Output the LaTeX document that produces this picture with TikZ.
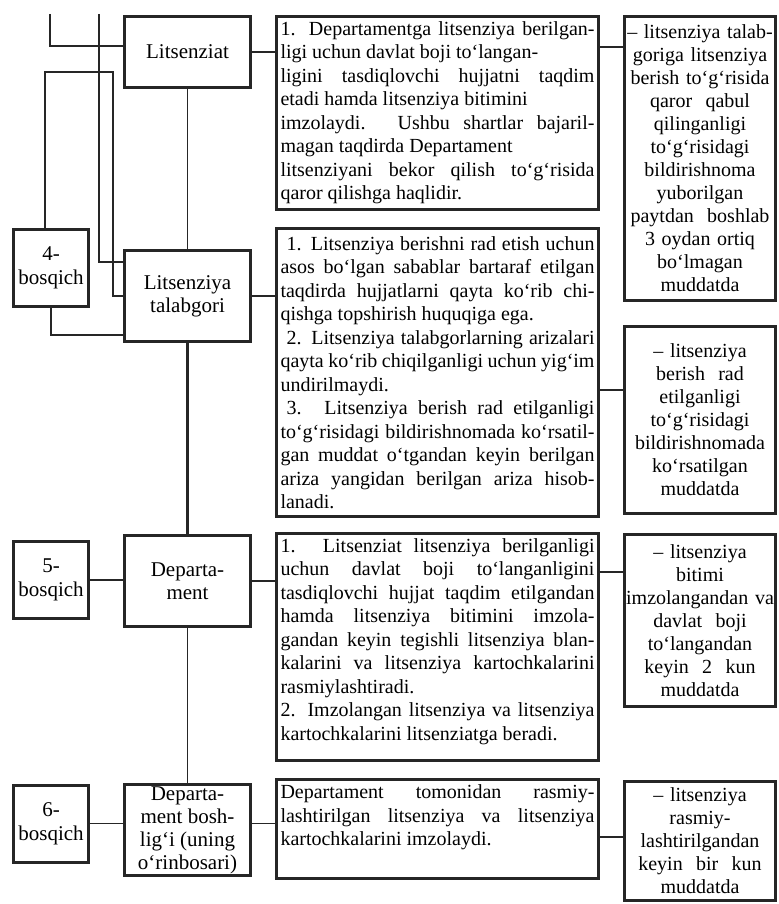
\documentclass[tikz,border=0pt]{standalone}
\usepackage{fontspec}
\setmainfont{Liberation Serif}
\usetikzlibrary{positioning}

\newcommand{\boxpad}[1]{\par\vspace*{#1}\null}

\begin{document}
\begin{tikzpicture}[
    x=1pt,y=1pt,
    node distance=10pt,
    actor/.style={
        draw=black!85,
        line width=1.5pt,
        minimum width=63pt,
        inner sep=1pt,
        align=center,
        font=\fontsize{10.5}{11.5}\selectfont
    },
    stage/.style={
        draw=black!85,
        line width=1.5pt,
        minimum width=37.5pt,
        minimum height=38.5pt,
        inner sep=1pt,
        align=center,
        font=\fontsize{10.5}{12}\selectfont
    },
    textbox/.style={
        draw=black!85,
        line width=1.5pt,
        text width=157pt,
        inner xsep=2pt,
        inner ysep=2.5pt,
        align=justify,
        font=\fontsize{10}{11.75}\selectfont
    },
    termbox/.style={
        draw=black!85,
        line width=1.5pt,
        text width=74pt,
        inner xsep=0.75pt,
        inner ysep=1pt,
        align=center,
        font=\fontsize{10}{11.5}\selectfont
    },
    link/.style={draw=black!85,line width=1.3pt},
    wire/.style={draw=black!85,line width=0.7pt}
]

\useasboundingbox (0,0) rectangle (389.5,-452);

%------------------------------------------------
% Actors
%------------------------------------------------

\node[actor,minimum height=35.5pt] (lits) at (93.75,-26) {Litsenziat};

\node[actor,minimum height=45.5pt,below=80pt of lits] (talab)
{Litsenziya\\talabgori};

\node[actor,minimum height=45.5pt,below=95.5pt of talab] (dept)
{Departa-\\ment};

\node[actor,minimum height=45pt,below=77.5pt of dept] (boss)
{Departa-\\ment bosh-\\lig‘i (uning\\o‘rinbosari)};

%------------------------------------------------
% Stages
%------------------------------------------------

\node[stage,left=16.5pt of talab,yshift=14pt] (st4) {4-\\bosqich};
\node[stage,left=16.5pt of dept,yshift=0.5pt] (st5) {5-\\bosqich};
\node[stage,left=16.5pt of boss,yshift=3.25pt] (st6) {6-\\bosqich};

\coordinate (topA) at (25,-7);
\coordinate (topB) at (49.5,-7);

%------------------------------------------------
% Actions
%------------------------------------------------

\node[textbox,minimum height=95.5pt,right=11.5pt of lits.north east,anchor=north west] (box1)
{1. Departamentga litsenziya berilgan-\linebreak
ligi uchun davlat boji to‘langan-\newline
ligini tasdiqlovchi hujjatni taqdim\linebreak
etadi hamda litsenziya bitimini\newline
imzolaydi. Ushbu shartlar bajaril-\linebreak
magan taqdirda Departament\newline
litsenziyani bekor qilish to‘g‘risida\linebreak
qaror qilishga haqlidir.};

\node[textbox,minimum height=144pt,right=11.5pt of talab.north east,anchor=north west,yshift=11pt] (box2)
{\hspace*{3pt}1. Litsenziya berishni rad etish uchun\linebreak
asos bo‘lgan sabablar bartaraf etilgan\linebreak
taqdirda hujjatlarni qayta ko‘rib chi-\linebreak
qishga topshirish huquqiga ega.\newline
\hspace*{3pt}2. Litsenziya talabgorlarning arizalari\linebreak
qayta ko‘rib chiqilganligi uchun yig‘im\linebreak
undirilmaydi.\newline
\hspace*{3pt}3. Litsenziya berish rad etilganligi\linebreak
to‘g‘risidagi bildirishnomada ko‘rsatil-\linebreak
gan muddat o‘tgandan keyin berilgan\linebreak
ariza yangidan berilgan ariza hisob-\linebreak
lanadi.};

\node[textbox,minimum height=113.5pt,right=11.5pt of dept.north east,anchor=north west,yshift=1pt] (box3)
{1. Litsenziat litsenziya berilganligi\linebreak
uchun davlat boji to‘langanligini\linebreak
tasdiqlovchi hujjat taqdim etilgandan\linebreak
hamda litsenziya bitimini imzola-\linebreak
gandan keyin tegishli litsenziya blan-\linebreak
kalarini va litsenziya kartochkalarini\linebreak
rasmiylashtiradi.\newline
2. Imzolangan litsenziya va litsenziya\linebreak
kartochkalarini litsenziatga beradi.\boxpad{-4pt}};

\node[textbox,minimum height=49.5pt,right=11.5pt of boss.north east,anchor=north west,yshift=2.5pt] (box4)
{Departament tomonidan rasmiy-\linebreak
lashtirilgan litsenziya va litsenziya\linebreak
kartochkalarini imzolaydi.\boxpad{2pt}};

%------------------------------------------------
% Terms
%------------------------------------------------

\node[termbox,minimum height=142pt,right=11.5pt of box1.north east,anchor=north west] (term1)
{– litsenziya talab-\\goriga litsenziya\\berish to‘g‘risida\\qaror\ \ qabul\\qilinganligi\\to‘g‘risidagi\\bildirishnoma\\yuborilgan\\paytdan\ \ boshlab\\3 oydan ortiq\\bo‘lmagan\\muddatda};

\node[termbox,minimum height=93.5pt,right=11.5pt of box2.north east,anchor=north west,yshift=-49pt] (term2)
{– litsenziya\\berish\ \ rad\\etilganligi\\to‘g‘risidagi\\bildirishnomada\\ko‘rsatilgan\\muddatda};

\node[termbox,minimum height=86pt,right=11.5pt of box3.north east,anchor=north west,yshift=-0.5pt] (term3)
{– litsenziya\\bitimi\\imzolangandan va\\davlat\ \ boji\\to‘langandan\\keyin\ \ 2\ \ kun\\muddatda};

\node[termbox,minimum height=59.5pt,right=11.5pt of box4.north east,anchor=north west,yshift=-1pt] (term4)
{– litsenziya\\rasmiy-\\lashtirilgandan\\keyin\ \ bir\ \ kun\\muddatda};

%------------------------------------------------
% Connectors
%------------------------------------------------

\draw[wire] (topA) |- ([yshift=3pt]lits.west);
\draw[line width=1pt,draw=black!85] (topB) |- ([yshift=17pt]talab.west);
\draw[wire] ([xshift=-3pt]st4.north) -- ++(0,78) -| ([xshift=-5pt]talab.west) -- (talab.west);
\draw[wire] (st4.south) |- ([yshift=-19.5pt]talab.west);

\draw[wire] (lits) -- (talab);
\draw[link] (talab) -- (dept);
\draw[wire] (dept) -- (boss);

\draw[link] (st5.east) -- (st5.east -| dept.west);
\draw[wire] (st6.east) -- (st6.east -| boss.west);

\draw[link] (lits.east) -- (lits.east -| box1.west);
\draw[link] (talab.east) -- (talab.east -| box2.west);
\draw[link] (dept.east) -- (dept.east -| box3.west);
\draw[wire] (boss.east |- st6.east) -- (st6.east -| box4.west);

\draw[link] ([yshift=-16pt]term1.north west) -- ([yshift=-16pt]term1.north west -| box1.east);
\draw[link] ([yshift=-32.5pt]term2.north west) -- ([yshift=-32.5pt]term2.north west -| box2.east);
\draw[link] ([yshift=-19.5pt]term3.north west) -- ([yshift=-19.5pt]term3.north west -| box3.east);
\draw[link] ([yshift=-28.5pt]term4.north west) -- ([yshift=-28.5pt]term4.north west -| box4.east);

\end{tikzpicture}
\end{document}
